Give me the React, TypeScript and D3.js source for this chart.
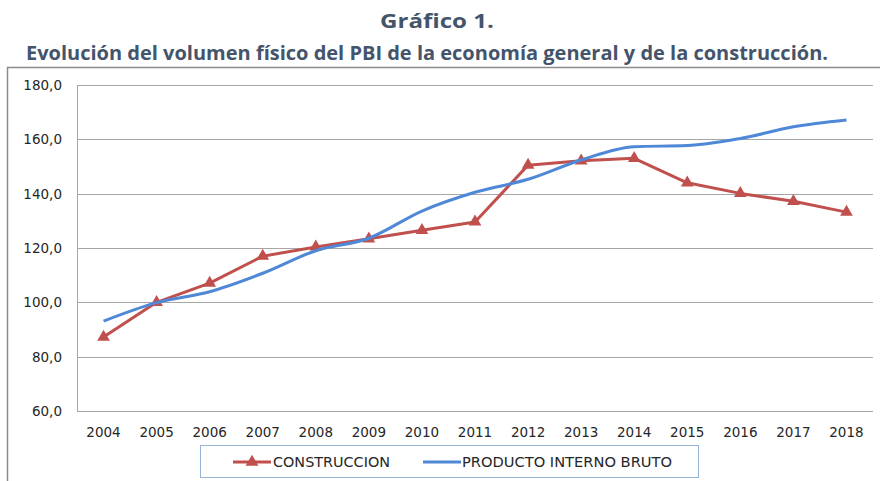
import * as d3 from "d3";
import { useEffect, useRef } from "react";

const years = ["2004", "2005", "2006", "2007", "2008", "2009", "2010", "2011", "2012", "2013", "2014", "2015", "2016", "2017", "2018"];
const construccion = [87.2, 100.0, 107.1, 117.0, 120.4, 123.4, 126.5, 129.6, 150.5, 152.1, 153.0, 144.0, 140.1, 137.2, 133.2];
const pbi = [93.1, 99.9, 103.9, 110.7, 119.0, 123.6, 133.6, 140.5, 145.3, 152.4, 157.3, 157.7, 160.3, 164.6, 167.1];
const yTicks = [60, 80, 100, 120, 140, 160, 180];

const width = 880,
  height = 481;
const plot = { left: 77, right: 873, top: 85, bottom: 411 };

const App = () => {
  const ref = useRef<SVGSVGElement>(null);

  useEffect(() => {
    const svg = d3.select(ref.current);
    svg.selectAll("*").remove();

    const x = d3.scalePoint().domain(years).range([plot.left, plot.right]).padding(0.5);
    const y = d3.scaleLinear().domain([60, 180]).range([plot.bottom, plot.top]);

    // outer frame of the chart
    svg
      .append("path")
      .attr("d", `M7.5,${height + 5}V67.5H${width + 5}`)
      .attr("fill", "none")
      .attr("stroke", "#8c8c8c")
      .attr("stroke-width", 1.5);

    // titles
    svg
      .append("text")
      .attr("x", 437)
      .attr("y", 28)
      .attr("text-anchor", "middle")
      .attr("font-family", "Open Sans")
      .attr("font-weight", "bold")
      .attr("font-size", 20)
      .attr("fill", "#44546a")
      .attr("textLength", 114)
      .attr("lengthAdjust", "spacingAndGlyphs")
      .text("Gráfico 1.");
    svg
      .append("text")
      .attr("x", 26)
      .attr("y", 60)
      .attr("font-family", "Open Sans")
      .attr("font-weight", "bold")
      .attr("font-size", 20)
      .attr("fill", "#44546a")
      .attr("textLength", 802)
      .attr("lengthAdjust", "spacingAndGlyphs")
      .text("Evolución del volumen físico del PBI de la economía general y de la construcción.");

    // gridlines
    svg
      .append("g")
      .selectAll("line")
      .data(yTicks)
      .join("line")
      .attr("x1", plot.left)
      .attr("x2", plot.right)
      .attr("y1", (d) => Math.round(y(d)) + 0.5)
      .attr("y2", (d) => Math.round(y(d)) + 0.5)
      .attr("stroke", "#a6a6a6")
      .attr("stroke-width", 1);
    svg
      .append("line")
      .attr("x1", plot.left + 0.5)
      .attr("x2", plot.left + 0.5)
      .attr("y1", plot.top)
      .attr("y2", plot.bottom + 1)
      .attr("stroke", "#a6a6a6");

    // y labels
    svg
      .append("g")
      .selectAll("text")
      .data(yTicks)
      .join("text")
      .attr("x", 62)
      .attr("y", (d) => y(d) + 5)
      .attr("text-anchor", "end")
      .attr("font-family", "DejaVu Sans")
      .attr("font-size", 13.5)
      .attr("fill", "#262626")
      .text((d) => d3.format(".1f")(d).replace(".", ","));

    // x labels
    svg
      .append("g")
      .selectAll("text")
      .data(years)
      .join("text")
      .attr("x", (d) => x(d)!)
      .attr("y", 437)
      .attr("text-anchor", "middle")
      .attr("font-family", "DejaVu Sans")
      .attr("font-size", 13.5)
      .attr("fill", "#262626")
      .text((d) => d);

    const redLine = d3
      .line<number>()
      .x((d, i) => x(years[i])!)
      .y((d) => y(d));
    const blueLine = d3
      .line<number>()
      .x((d, i) => x(years[i])!)
      .y((d) => y(d))
      .curve(d3.curveMonotoneX);

    svg
      .append("path")
      .attr("d", redLine(construccion))
      .attr("fill", "none")
      .attr("stroke", "#c0504d")
      .attr("stroke-width", 3)
      .attr("stroke-linejoin", "round");

    const tri = d3.symbol().type(d3.symbolTriangle).size(70);
    svg
      .append("g")
      .selectAll("path")
      .data(construccion)
      .join("path")
      .attr("d", tri)
      .attr("transform", (d, i) => `translate(${x(years[i])},${y(d)})`)
      .attr("fill", "#c0504d");

    svg
      .append("path")
      .attr("d", blueLine(pbi))
      .attr("fill", "none")
      .attr("stroke", "#4f88d6")
      .attr("stroke-width", 3)
      .attr("stroke-linejoin", "round");

    // legend
    const lg = svg.append("g");
    lg.append("rect")
      .attr("x", 200.5)
      .attr("y", 445.5)
      .attr("width", 498)
      .attr("height", 32)
      .attr("fill", "white")
      .attr("stroke", "#95b3d7");
    lg.append("line")
      .attr("x1", 233)
      .attr("x2", 271)
      .attr("y1", 462)
      .attr("y2", 462)
      .attr("stroke", "#c0504d")
      .attr("stroke-width", 3);
    lg.append("path").attr("d", tri).attr("transform", "translate(252,462)").attr("fill", "#c0504d");
    lg.append("text")
      .attr("x", 273)
      .attr("y", 467)
      .attr("font-family", "DejaVu Sans")
      .attr("font-size", 14)
      .attr("fill", "#262626")
      .attr("textLength", 117)
      .attr("lengthAdjust", "spacingAndGlyphs")
      .text("CONSTRUCCION");
    lg.append("line")
      .attr("x1", 423)
      .attr("x2", 461)
      .attr("y1", 462)
      .attr("y2", 462)
      .attr("stroke", "#4f88d6")
      .attr("stroke-width", 3);
    lg.append("text")
      .attr("x", 462)
      .attr("y", 467)
      .attr("font-family", "DejaVu Sans")
      .attr("font-size", 14)
      .attr("fill", "#262626")
      .attr("textLength", 210)
      .attr("lengthAdjust", "spacingAndGlyphs")
      .text("PRODUCTO INTERNO BRUTO");
  }, []);

  return (
    <svg
      ref={ref}
      width={width}
      height={height}
      style={{ position: "absolute", left: 0, top: 0, background: "white" }}
    />
  );
};

export default App;
